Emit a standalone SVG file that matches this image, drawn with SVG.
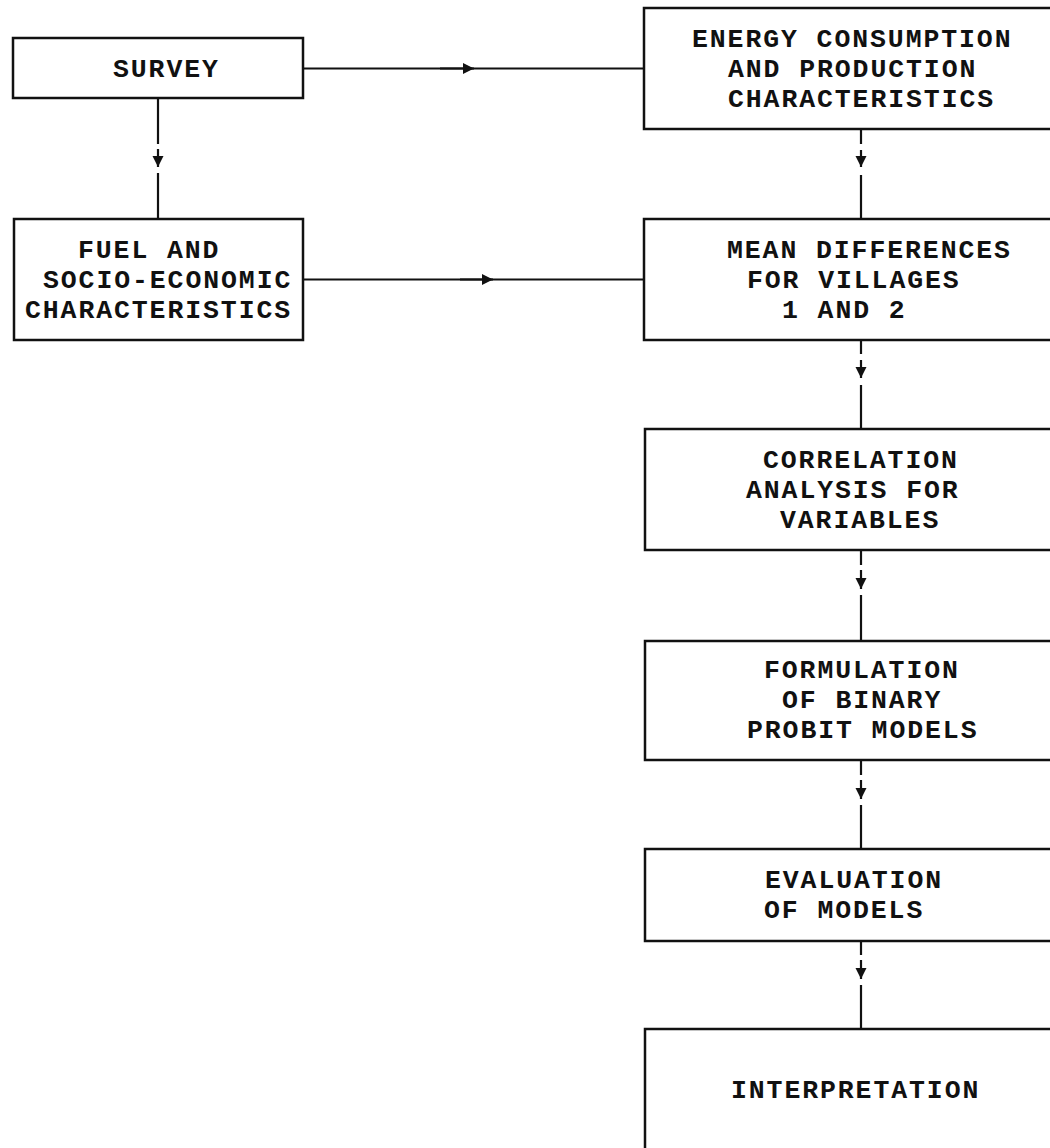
<svg xmlns="http://www.w3.org/2000/svg" width="1050" height="1148" viewBox="0 0 1050 1148">
<style>
.box{fill:#fff;stroke:#111;stroke-width:2.5}
.lbl{font-family:"Liberation Mono","Courier New",monospace;font-weight:bold;font-size:26.5px;letter-spacing:1.9px;fill:#111}
.ln{stroke:#111;stroke-width:2.2;fill:none}
</style>
<defs>
<marker id="ah" markerUnits="userSpaceOnUse" markerWidth="13" markerHeight="13" viewBox="0 0 13 13" refX="12" refY="6.5" orient="auto">
<path d="M1,1 L12,6.5 L1,12 Z" fill="#111"/>
</marker>
</defs>
<rect width="1050" height="1148" fill="#fff"/>
<g id="connectors">
<line class="ln" x1="303" y1="68.5" x2="644" y2="68.5"/>
<line class="ln" x1="440" y1="68.5" x2="474" y2="68.5" marker-end="url(#ah)"/>
<line class="ln" x1="303" y1="279.5" x2="644" y2="279.5"/>
<line class="ln" x1="460" y1="279.5" x2="493" y2="279.5" marker-end="url(#ah)"/>
<line class="ln" x1="158" y1="98" x2="158" y2="144"/>
<line class="ln" x1="158" y1="149" x2="158" y2="167" marker-end="url(#ah)"/>
<line class="ln" x1="158" y1="173" x2="158" y2="219"/>
<line class="ln" x1="861" y1="129" x2="861" y2="144"/>
<line class="ln" x1="861" y1="150" x2="861" y2="167" marker-end="url(#ah)"/>
<line class="ln" x1="861" y1="175" x2="861" y2="219"/>
<line class="ln" x1="861" y1="340" x2="861" y2="354"/>
<line class="ln" x1="861" y1="360" x2="861" y2="378" marker-end="url(#ah)"/>
<line class="ln" x1="861" y1="385" x2="861" y2="429"/>
<line class="ln" x1="861" y1="550" x2="861" y2="565"/>
<line class="ln" x1="861" y1="570" x2="861" y2="589" marker-end="url(#ah)"/>
<line class="ln" x1="861" y1="595" x2="861" y2="641"/>
<line class="ln" x1="861" y1="760" x2="861" y2="775"/>
<line class="ln" x1="861" y1="780" x2="861" y2="799" marker-end="url(#ah)"/>
<line class="ln" x1="861" y1="805" x2="861" y2="849"/>
<line class="ln" x1="861" y1="941" x2="861" y2="955"/>
<line class="ln" x1="861" y1="960" x2="861" y2="979" marker-end="url(#ah)"/>
<line class="ln" x1="861" y1="985" x2="861" y2="1029"/>
</g>
<g id="survey">
<rect class="box" x="13" y="38" width="290" height="60"/>
<text class="lbl" x="113" y="77">SURVEY</text>
</g>
<g id="fuel">
<rect class="box" x="14" y="219" width="289" height="121"/>
<text class="lbl" x="78" y="258">FUEL AND</text>
<text class="lbl" x="43" y="288">SOCIO-ECONOMIC</text>
<text class="lbl" x="25" y="318">CHARACTERISTICS</text>
</g>
<g id="energy">
<rect class="box" x="644" y="8" width="420" height="121"/>
<text class="lbl" x="692" y="47">ENERGY CONSUMPTION</text>
<text class="lbl" x="728" y="77">AND PRODUCTION</text>
<text class="lbl" x="728" y="107">CHARACTERISTICS</text>
</g>
<g id="mean">
<rect class="box" x="644" y="219" width="420" height="121"/>
<text class="lbl" x="727" y="258">MEAN DIFFERENCES</text>
<text class="lbl" x="747" y="288">FOR VILLAGES</text>
<text class="lbl" x="782" y="318">1 AND 2</text>
</g>
<g id="correlation">
<rect class="box" x="645" y="429" width="420" height="121"/>
<text class="lbl" x="763" y="468">CORRELATION</text>
<text class="lbl" x="746" y="498">ANALYSIS FOR</text>
<text class="lbl" x="780" y="528">VARIABLES</text>
</g>
<g id="formulation">
<rect class="box" x="645" y="641" width="420" height="119"/>
<text class="lbl" x="764" y="678">FORMULATION</text>
<text class="lbl" x="782" y="708">OF BINARY</text>
<text class="lbl" x="747" y="738">PROBIT MODELS</text>
</g>
<g id="evaluation">
<rect class="box" x="645" y="849" width="420" height="92"/>
<text class="lbl" x="765" y="888">EVALUATION</text>
<text class="lbl" x="764" y="918">OF MODELS</text>
</g>
<g id="interpretation">
<rect class="box" x="645" y="1029" width="420" height="140"/>
<text class="lbl" x="731" y="1098">INTERPRETATION</text>
</g>
</svg>
